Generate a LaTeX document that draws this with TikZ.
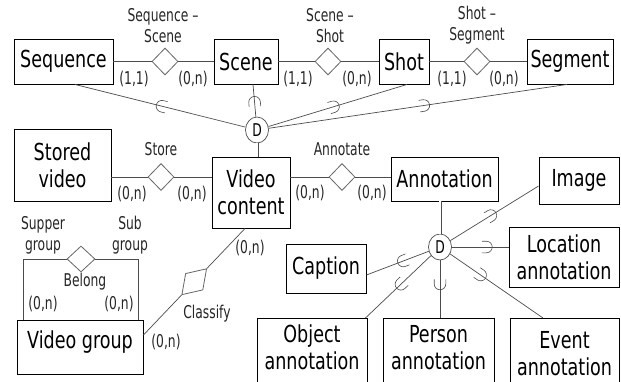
\documentclass[tikz,border=0pt]{standalone}
\usepackage{fontspec}
\setmainfont{DejaVu Sans}[FakeStretch=0.75]
\newfontfamily\smallfam{DejaVu Sans}[FakeStretch=0.70]
\usetikzlibrary{shapes.geometric,decorations.markings,calc}
\newcommand\myBig{\fontsize{23.4}{27}\selectfont}
\newcommand\mySmall{\smallfam\fontsize{17.6}{21}\selectfont}
\tikzset{
  box/.style={draw=black, line width=0.9pt, inner sep=0pt, align=center, font=\myBig},
  txt/.style={inner sep=0pt, align=center, font=\myBig},
  rel/.style={draw=black!60, line width=0.8pt, diamond, minimum width=26pt, minimum height=27pt, inner sep=0pt},
  lab/.style={font=\mySmall, align=center, text=black!85, inner sep=0pt},
  ln/.style={draw=black!70, line width=0.7pt},
  dbl/.style={draw=black!70, line width=0.6pt, double, double distance=1.8pt},
  disj/.style={draw=black!70, line width=0.7pt, ellipse, fill=white, minimum width=23pt, minimum height=26pt, inner sep=0pt, font=\mySmall},
  subm/.style={postaction={decorate, decoration={markings,
     mark=at position #1 with {\draw[black!70, line width=0.6pt] (-4.5pt,5.8pt) -- (0pt,5.8pt) arc[start angle=90, end angle=-90, radius=5.8pt] -- (-4.5pt,-5.8pt);}}}}
}
\begin{document}
\begin{tikzpicture}[x=1pt,y=-1pt]
\useasboundingbox (0,0) rectangle (621,381);
\clip (0,0) rectangle (621,381);
\fill[white] (0,0) rectangle (621,381);
% entity boxes
\node[box, minimum width=99pt, minimum height=45pt] (seq) at (63.5,61.5) {Sequence};
\node[box, minimum width=64pt, minimum height=45pt] (scn) at (246,61.5) {Scene};
\node[box, minimum width=50pt, minimum height=45pt] (sht) at (404,61.5) {Shot};
\node[box, minimum width=86pt, minimum height=45pt] (seg) at (570,61.5) {Segment};
\node[box, minimum width=97pt, minimum height=72pt] (sto) at (62.5,165) {Stored\\video};
\node[box, minimum width=78pt, minimum height=71pt] (vc) at (251,192.5) {Video\\content};
\node[box, minimum width=107pt, minimum height=44pt] (ann) at (444.5,179) {Annotation};
\node[box, minimum width=80pt, minimum height=47pt] (img) at (579,180.5) {Image};
\node[box, minimum width=110pt, minimum height=60pt] (loc) at (564,257) {Location\\annotation};
\node[box, minimum width=80pt, minimum height=49pt] (cap) at (326,268.5) {Caption};
\node[box, minimum width=110pt, minimum height=80pt, anchor=north] (obj) at (312,318) {};
\node[box, minimum width=111pt, minimum height=80pt, anchor=north] (per) at (438.5,318) {};
\node[box, minimum width=109pt, minimum height=80pt, anchor=north] (evt) at (564.5,318) {};
\node[txt] (objt) at (312,347.5) {Object\\annotation};
\node[txt] (pert) at (438.5,347.5) {Person\\annotation};
\node[txt] (evtt) at (564.5,354) {Event\\annotation};
\node[box, minimum width=126pt, minimum height=54pt] (vg) at (80,347) {};
\node[txt] (vgt) at (80,342) {Video group};
% relationships
\node[rel] (r1) at (165,61.5) {};
\node[rel] (r2) at (328,61.5) {};
\node[rel] (r3) at (477,61.5) {};
\node[rel] (r4) at (161,177) {};
\node[rel] (r5) at (342,177) {};
\node[rel, minimum width=28pt, minimum height=26pt] (r6) at (81,259) {};
\draw[ln] (seq.east) -- (r1.west);
\draw[ln] (r1.east) -- (scn.west);
\draw[ln] (scn.east) -- (r2.west);
\draw[ln] (r2.east) -- (sht.west);
\draw[ln] (sht.east) -- (r3.west);
\draw[ln] (r3.east) -- (seg.west);
\draw[ln] (r4 -| sto.east) -- (r4.west);
\draw[ln] (r4.east) -- (r4 -| vc.west);
\draw[ln] (r5 -| vc.east) -- (r5.west);
\draw[ln] (r5.east) -- (r5 -| ann.west);
% disjoint specialisations
\node[disj] (d1) at (257,130) {D};
\node[disj] (d2) at (440,247) {D};
\draw[dbl] (d1) -- (d1 |- vc.north);
\draw[dbl] (d2) -- (d2 |- ann.south);
\draw[ln, subm=0.49] (d1) -- ([xshift=11.5pt]seq.south);
\draw[ln, subm=0.45] (d1) -- ([xshift=7pt]scn.south);
\draw[ln, subm=0.47] (d1) -- ([xshift=3pt]sht.south);
\draw[ln, subm=0.52] (d1) -- ([xshift=-3pt]seg.south);
\draw[ln, subm=0.46] (d2) -- ([yshift=-5.5pt]img.west);
\draw[ln, subm=0.61] (d2) -- (d2 -| loc.west);
\draw[ln, subm=0.33] (d2) -- ([xshift=-21.5pt]evt.north);
\draw[ln, subm=0.41] (d2) -- (d2 |- per.north);
\draw[ln, subm=0.46] (d2) -- ([xshift=-2pt]obj.north east);
\draw[ln, subm=0.41] (d2) -- ([yshift=-6.5pt]cap.east);
% classify
\coordinate (vgc) at ([yshift=12pt]vg.east);
\coordinate (vcc) at ([xshift=-6pt]vc.south);
\path (vgc) -- node[rel, sloped, minimum width=36pt, minimum height=24pt] (cls) {} (vcc);
\draw[ln] (vgc) -- (cls.west);
\draw[ln] (cls.east) -- (vcc);
% belong (recursive)
\draw[ln] ([xshift=-57pt]vg.north) |- (r6.west);
\draw[ln] (r6.east) -| ([xshift=58pt]vg.north);
% labels
\node[lab] at (163,25.5) {Sequence –\\Scene};
\node[lab] at (330,25.5) {Scene –\\Shot};
\node[lab] at (477,25.5) {Shot –\\Segment};
\node[lab] at (161,149) {Store};
\node[lab] at (342,149) {Annotate};
\node[lab] at (85,282) {Belong};
\node[lab] at (43,235.5) {Supper\\group};
\node[lab] at (130,235.5) {Sub\\group};
\node[lab] at (207,314) {Classify};
\node[lab] at (134,79) {(1,1)};
\node[lab] at (193,79) {(0,n)};
\node[lab] at (298,79) {(1,1)};
\node[lab] at (357,79) {(0,n)};
\node[lab] at (452,79) {(1,1)};
\node[lab] at (504,79) {(0,n)};
\node[lab] at (132,194) {(0,n)};
\node[lab] at (192,194) {(0,n)};
\node[lab] at (310,193) {(0,n)};
\node[lab] at (372,193) {(0,n)};
\node[lab] at (250,248) {(0,n)};
\node[lab] at (166,342) {(0,n)};
\node[lab] at (43,304) {(0,n)};
\node[lab] at (119,304) {(0,n)};
\end{tikzpicture}
\end{document}
